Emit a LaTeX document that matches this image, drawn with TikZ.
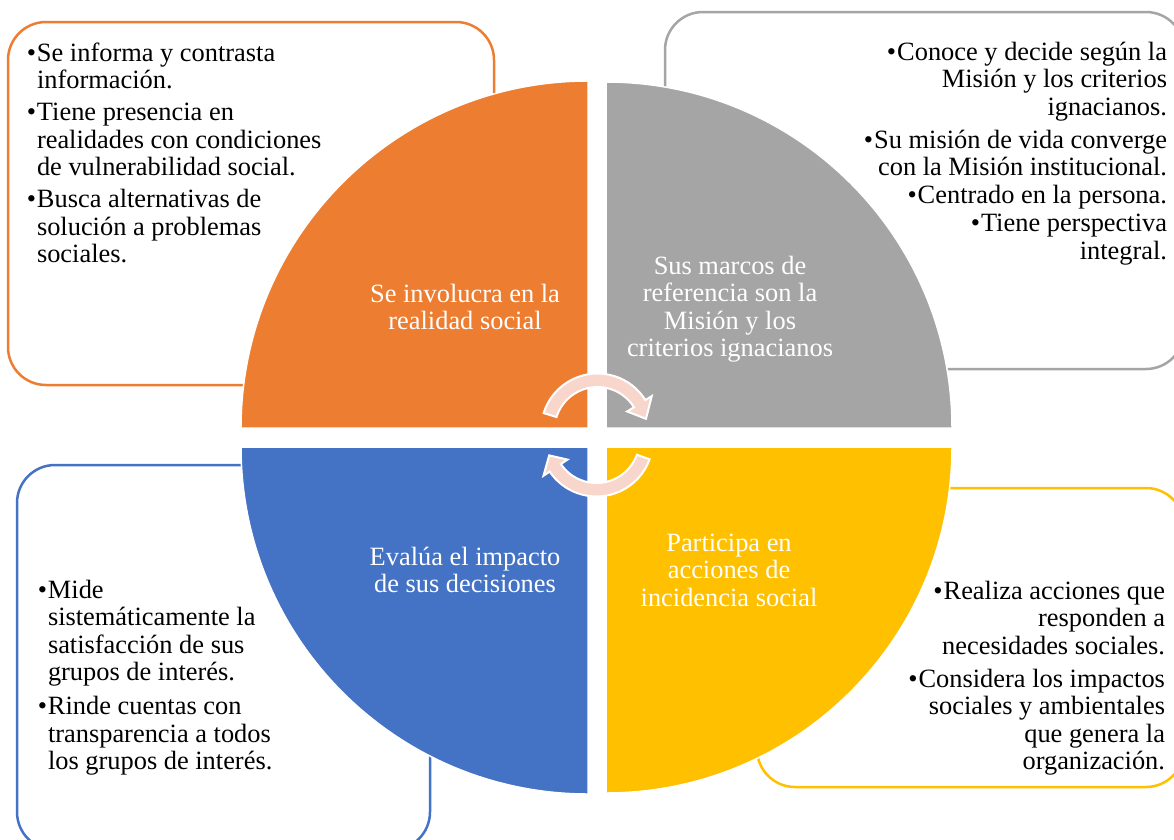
\documentclass[tikz,border=0pt]{standalone}
\usepackage{fontspec}
\setmainfont{Liberation Serif}
\definecolor{qorange}{HTML}{ED7D31}
\definecolor{qgray}{HTML}{A5A5A5}
\definecolor{qblue}{HTML}{4472C4}
\definecolor{qyellow}{HTML}{FFC000}
\definecolor{arrowpink}{RGB}{248,214,203}
\newcommand\bl{\llap{\textbullet\hspace{1pt}}}
\newcommand\bi{\textbullet\hspace{1pt}}
\newcommand\cyclearrow[3]{%
  \draw[arrowsty] (#1:56.5) arc[start angle=#1, end angle=#2, radius=56.5]
    -- (#2:64) -- (#3:49.75) -- (#2:35) -- (#2:43)
    arc[start angle=#2, end angle=#1, radius=43] -- cycle;}
\begin{document}
\begin{tikzpicture}[x=1pt,y=1pt,
  infobox/.style={line width=2.5pt, rounded corners=38pt, fill=white},
  quad/.style={draw=white, line width=1.5pt},
  txt/.style={inner sep=0pt, outer sep=0pt, font=\fontsize{26.4}{27.5}\selectfont},
  lbl/.style={txt, text=white, anchor=base},
  arrowsty/.style={fill=arrowpink, draw=white, line width=2pt, line join=miter}]
\clip (0,0) rectangle (1174,-839);
\fill[white] (0,0) rectangle (1174,-839);

% outer boxes
\draw[infobox, draw=qorange] (8,-22) rectangle (494,-385);
\draw[infobox, draw=qgray] (665,-12) rectangle (1184,-369);
\draw[infobox, draw=qblue] (17,-465) rectangle (430,-850);
\draw[infobox, draw=qyellow] (757,-488) rectangle (1184,-787);

% quadrants
\filldraw[quad, fill=qorange] (588,-428) -- (241,-428) arc[start angle=180, end angle=90, radius=347] -- cycle;
\filldraw[quad, fill=qgray] (606,-428) -- (606,-82) arc[start angle=90, end angle=0, radius=346] -- cycle;
\filldraw[quad, fill=qblue] (588,-447) -- (588,-794) arc[start angle=270, end angle=180, radius=347] -- cycle;
\filldraw[quad, fill=qyellow] (606,-447) -- (952,-447) arc[start angle=0, end angle=-90, radius=346] -- cycle;

% quadrant labels
\node[lbl] (lorange) at (465,-302) {\begin{tabular}[t]{@{}c@{}}Se involucra en la\\realidad social\end{tabular}};
\node[lbl] (lgray) at (730,-274) {\begin{tabular}[t]{@{}c@{}}Sus marcos de\\referencia son la\\Misión y los\\criterios ignacianos\end{tabular}};
\node[lbl] (lblue) at (465,-565) {\begin{tabular}[t]{@{}c@{}}Evalúa el impacto\\de sus decisiones\end{tabular}};
\node[lbl] (lyellow) at (729,-551) {\begin{tabular}[t]{@{}c@{}}Participa en\\acciones de\\incidencia social\end{tabular}};

% box texts
\node[txt, anchor=base west] (torange) at (37,-61) {\begin{tabular}[t]{@{}l@{}}
\bl Se informa y contrasta\\
información.\\[4.7pt]
\bl Tiene presencia en\\
realidades con condiciones\\
de vulnerabilidad social.\\[4.5pt]
\bl Busca alternativas de\\
solución a problemas\\
sociales.\end{tabular}};

\node[txt, anchor=base east] (tgray) at (1167,-60) {\begin{tabular}[t]{@{}r@{}}
\bi Conoce y decide según la\\
Misión y los criterios\\
ignacianos.\\[5.5pt]
\bi Su misión de vida converge\\
con la Misión institucional.\\[0.5pt]
\bi Centrado en la persona.\\
\bi Tiene perspectiva\\[0.5pt]
integral.\end{tabular}};

\node[txt, anchor=base west] (tblue) at (48,-598) {\begin{tabular}[t]{@{}l@{}}
\bl Mide\\
sistemáticamente la\\
satisfacción de sus\\
grupos de interés.\\[6.5pt]
\bl Rinde cuentas con\\
transparencia a todos\\
los grupos de interés.\end{tabular}};

\node[txt, anchor=base east] (tyellow) at (1165,-599) {\begin{tabular}[t]{@{}r@{}}
\bi Realiza acciones que\\
responden a\\
necesidades sociales.\\[5.5pt]
\bi Considera los impactos\\
sociales y ambientales\\
que genera la\\
organización.\end{tabular}};

% circular arrows
\begin{scope}[shift={(597.5,-430)}]
  \cyclearrow{162.5}{32}{13}
\end{scope}
\begin{scope}[shift={(596.5,-440)}, rotate=180]
  \cyclearrow{160}{34}{18}
\end{scope}
\end{tikzpicture}
\end{document}
